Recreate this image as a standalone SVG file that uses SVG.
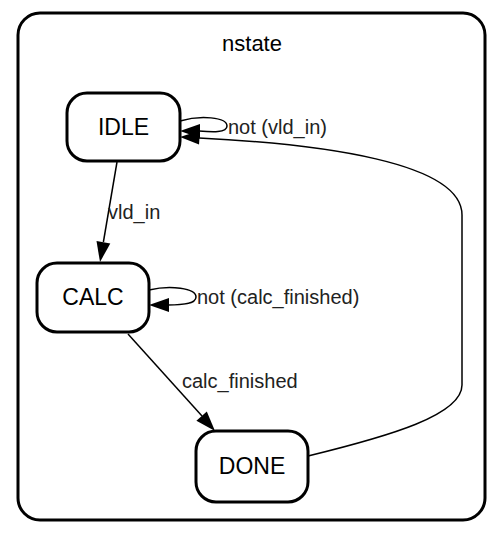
<svg xmlns="http://www.w3.org/2000/svg" width="503" height="535" viewBox="0 0 503 535">
<style>
.node rect{fill:#fff;stroke:#000;stroke-width:3}
.node text{font-family:"Liberation Sans",Arial,sans-serif;font-size:23px;text-anchor:middle;dominant-baseline:central;fill:#000}
.edge path{fill:none;stroke:#000;stroke-width:1.5}
.edge polygon{fill:#000}
.lbl{font-family:"Liberation Sans",Arial,sans-serif;font-size:20px;fill:#222;dominant-baseline:central}
</style>
<rect width="503" height="535" fill="#fff"/>
<g id="cluster">
<rect x="18" y="13" width="467" height="507" rx="22" fill="#fff" stroke="#000" stroke-width="3"/>
<text x="252" y="43" font-family="Liberation Sans,Arial,sans-serif" font-size="22" text-anchor="middle" dominant-baseline="central">nstate</text>
</g>
<g id="edges" class="edge">
<path d="M117,162 L103.4,242"/>
<polygon points="110.3,243.5 96.5,241.1 100,262"/>
<path d="M180,121 C200,115 227,117 227,126 C227,133 212,132 199,131"/>
<polygon points="200,124 200,138 180,131"/>
<path d="M149,290 C170,285 196,288 196,297 C196,304 182,305 168,305"/>
<polygon points="169,298 169,312 149,305"/>
<path d="M128,334 L202,416"/>
<polygon points="196.4,420.8 206.8,411.4 215,431"/>
<path d="M308,456 C390,436 462,415 462,385 L462,215 C462,162 320,144 199,138"/>
<polygon points="200,130.5 199,144.5 180,137"/>
</g>
<g id="edge-labels">
<text class="lbl" x="108" y="212">vld_in</text>
<text class="lbl" x="228" y="127">not (vld_in)</text>
<text class="lbl" x="197" y="297">not (calc_finished)</text>
<text class="lbl" x="182" y="381">calc_finished</text>
</g>
<g id="IDLE" class="node"><rect x="67" y="93" width="113" height="68" rx="20"/><text x="123.5" y="127">IDLE</text></g>
<g id="CALC" class="node"><rect x="37" y="263" width="112" height="69" rx="20"/><text x="93" y="297">CALC</text></g>
<g id="DONE" class="node"><rect x="196" y="431" width="112" height="71" rx="20"/><text x="252" y="466">DONE</text></g>
</svg>
